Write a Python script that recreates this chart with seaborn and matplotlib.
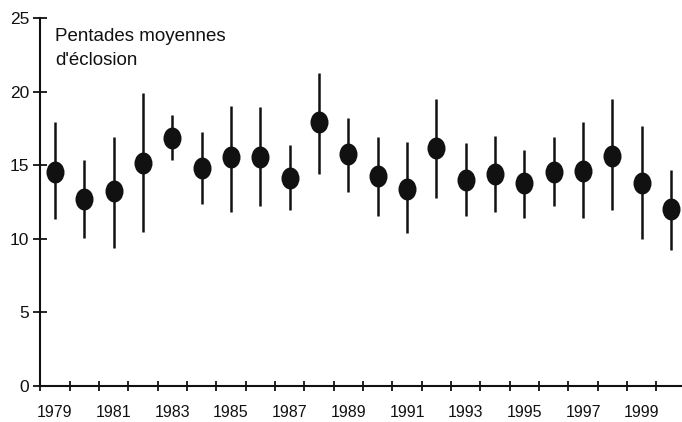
import numpy as np
import pandas as pd
import matplotlib
matplotlib.use("Agg")
import matplotlib.pyplot as plt
from matplotlib.path import Path
from matplotlib.transforms import Affine2D
import seaborn as sns

# values (pentades)
years = list(range(1979, 2001))
mean_pentade = [14.56, 12.70, 13.27, 15.13, 16.83, 14.79, 15.53, 15.53, 14.15, 17.91, 15.76,
                14.27, 13.38, 16.15, 13.99, 14.40, 13.77, 14.51, 14.63, 15.65, 13.77, 12.02]
upper = [17.96, 15.35, 16.94, 19.88, 18.41, 17.23, 19.04, 18.93, 16.37, 21.28, 18.18,
         16.94, 16.60, 19.47, 16.53, 16.98, 16.03, 16.94, 17.96, 19.47, 17.66, 14.67]
lower = [11.32, 10.08, 9.40, 10.44, 15.35, 12.36, 11.84, 12.25, 11.96, 14.38, 13.20,
         11.55, 10.37, 12.75, 11.55, 11.84, 11.39, 12.25, 11.39, 11.96, 9.97, 9.24]
y_ticks = [0, 5, 10, 15, 20, 25]
label_years = years[::2]

df = pd.DataFrame({"year": years, "mean": mean_pentade, "hi": upper, "lo": lower})
df["pos"] = np.arange(len(df))

sns.set_theme(style="white")
plt.rcParams["font.family"] = ["Liberation Sans", "DejaVu Sans"]

fig = plt.figure(figsize=(6.82, 4.22), dpi=100)
ax = fig.add_axes([40.3 / 682, 36 / 422, 645.4 / 682, 368 / 422])

ink = "#111111"
ax.vlines(df["pos"], df["lo"], df["hi"], color=ink, linewidth=1.8, zorder=2)

# slightly tall ellipse marker like the original
ellipse = Path.unit_circle().transformed(Affine2D().scale(0.82, 1.0))
sns.scatterplot(data=df, x="pos", y="mean", marker=ellipse, s=250, color=ink,
                edgecolor=ink, linewidth=0, ax=ax, zorder=3, legend=False)

ax.set_xlim(-0.5, len(years) - 0.5)
ax.set_ylim(0, 25)
ax.set_yticks(y_ticks)
ax.set_yticklabels([str(t) for t in y_ticks], fontsize=12.5, color=ink)

# tick marks between years, labels under every second year
ax.set_xticks(np.arange(-0.5, len(years)))
ax.set_xticklabels([])
label_pos = [years.index(y) for y in label_years]
ax.set_xticks(label_pos, minor=True)
ax.set_xticklabels([str(y) for y in label_years], minor=True, fontsize=11.5, color=ink)

ax.tick_params(axis="y", which="major", direction="inout", length=10, width=1.3,
               color=ink, pad=3, left=True)
ax.tick_params(axis="x", which="major", direction="inout", length=7, width=1.3,
               color=ink, bottom=True)
ax.tick_params(axis="x", which="minor", length=0, pad=14, bottom=True)

for side in ["top", "right"]:
    ax.spines[side].set_visible(False)
for side in ["left", "bottom"]:
    ax.spines[side].set_color(ink)
    ax.spines[side].set_linewidth(1.5)

ax.set_xlabel("")
ax.set_ylabel("")
ax.text(0.0, 24.3, "Pentades moyennes\nd'éclosion", fontsize=13.5, color=ink,
        va="top", ha="left", linespacing=1.5)

fig.savefig("out.png", dpi=100)
